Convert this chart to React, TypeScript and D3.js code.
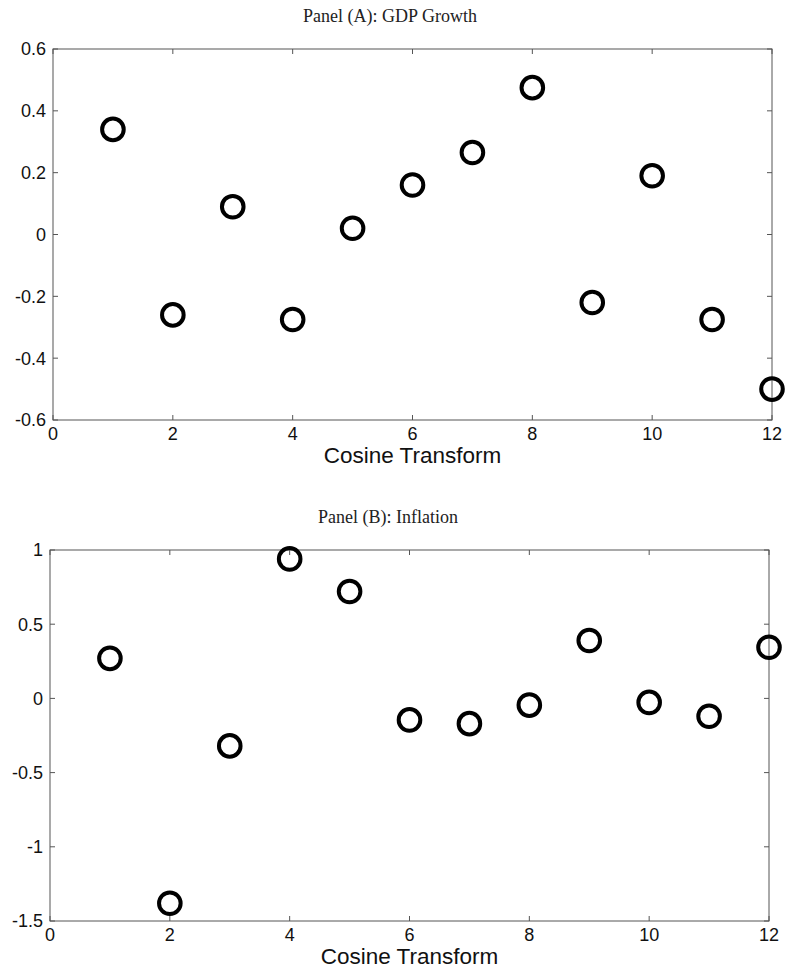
import React from "react";
import * as d3 from "d3";

const xIndex = [1, 2, 3, 4, 5, 6, 7, 8, 9, 10, 11, 12];
const gdpValues = [0.34, -0.26, 0.09, -0.275, 0.02, 0.16, 0.265, 0.475, -0.22, 0.19, -0.275, -0.5];
const inflationValues = [0.27, -1.38, -0.32, 0.94, 0.72, -0.145, -0.17, -0.045, 0.39, -0.027, -0.12, 0.345];
const xTicks = [0, 2, 4, 6, 8, 10, 12];
const gdpTicks = [-0.6, -0.4, -0.2, 0, 0.2, 0.4, 0.6];
const inflationTicks = [-1.5, -1, -0.5, 0, 0.5, 1];
const titles = ["Panel (A): GDP Growth", "Panel (B): Inflation"];
const xLabel = "Cosine Transform";

type PanelProps = {
  title: string;
  values: number[];
  yTicks: number[];
  yDomain: [number, number];
  left: number;
  right: number;
  top: number;
  bottom: number;
  titleX: number;
};

function fmt(v: number) {
  return v === 0 ? "0" : String(v);
}

function Panel({ title, values, yTicks, yDomain, left, right, top, bottom, titleX }: PanelProps) {
  const x = d3.scaleLinear().domain([0, 12]).range([left, right]);
  const y = d3.scaleLinear().domain(yDomain).range([bottom, top]);
  const tl = 5;
  const sans = "'Liberation Sans', Arial, Helvetica, sans-serif";
  return (
    <g>
      <text x={titleX} y={top - 27} textAnchor="middle" fontFamily="'Liberation Serif', 'Times New Roman', serif" fontSize={18} fill="#222">
        {title}
      </text>
      <rect x={left} y={top} width={right - left} height={bottom - top} fill="none" stroke="#555" strokeWidth={1} />
      {xTicks.map((t) => (
        <g key={"x" + t}>
          <line x1={x(t)} x2={x(t)} y1={bottom} y2={bottom - tl} stroke="#555" strokeWidth={1} />
          <line x1={x(t)} x2={x(t)} y1={top} y2={top + tl} stroke="#555" strokeWidth={1} />
          <text x={x(t)} y={bottom + 20} textAnchor="middle" fontFamily={sans} fontSize={18} fill="#111">
            {t}
          </text>
        </g>
      ))}
      {yTicks.map((t) => (
        <g key={"y" + t}>
          <line x1={left} x2={left + tl} y1={y(t)} y2={y(t)} stroke="#555" strokeWidth={1} />
          <line x1={right} x2={right - tl} y1={y(t)} y2={y(t)} stroke="#555" strokeWidth={1} />
          <text x={left - 7} y={y(t)} dy="0.36em" textAnchor="end" fontFamily={sans} fontSize={18} fill="#111">
            {fmt(t)}
          </text>
        </g>
      ))}
      <text x={(left + right) / 2} y={bottom + 43} textAnchor="middle" fontFamily={sans} fontSize={22.5} fill="#111">
        {xLabel}
      </text>
      {values.map((v, i) => (
        <circle key={i} cx={x(xIndex[i])} cy={y(v)} r={10.8} fill="none" stroke="#000" strokeWidth={4} />
      ))}
    </g>
  );
}

export default function App() {
  return (
    <svg width={794} height={969} style={{ position: "absolute", left: 0, top: 0, background: "#fff" }}>
      <rect x={0} y={0} width={794} height={969} fill="#fff" />
      <Panel title={titles[0]} values={gdpValues} yTicks={gdpTicks} yDomain={[-0.6, 0.6]} left={53} right={772} top={49} bottom={420} titleX={390} />
      <Panel title={titles[1]} values={inflationValues} yTicks={inflationTicks} yDomain={[-1.5, 1]} left={50} right={769} top={550} bottom={921} titleX={388} />
    </svg>
  );
}
